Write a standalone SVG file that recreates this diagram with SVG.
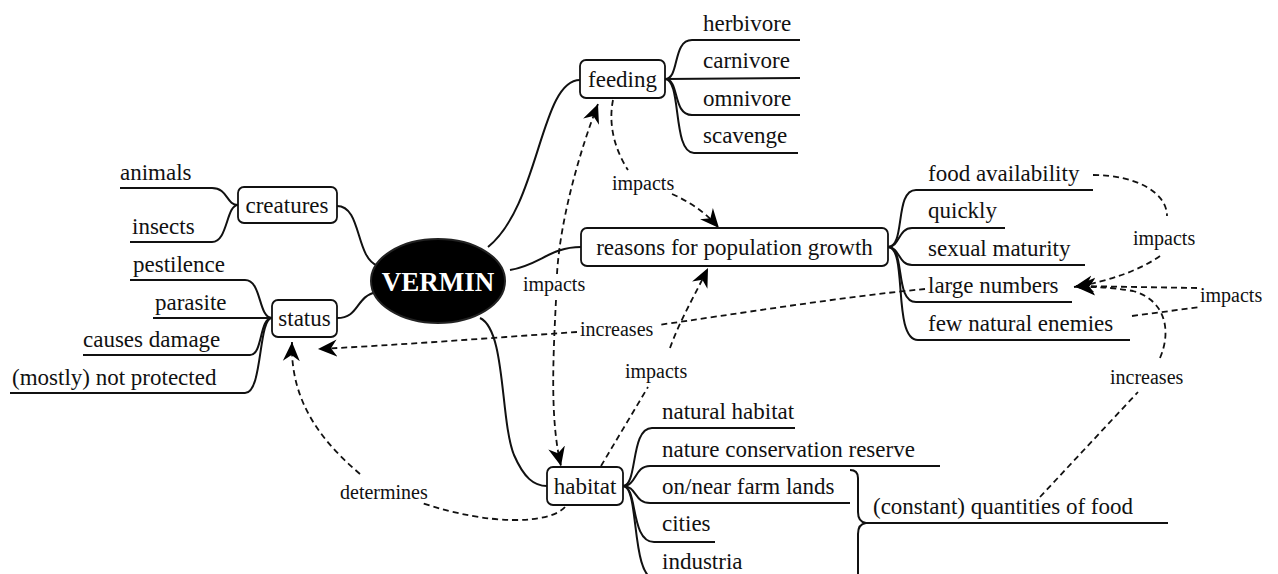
<svg xmlns="http://www.w3.org/2000/svg" width="1278" height="574" viewBox="0 0 1278 574">
<defs>
<style>
.bg{fill:#ffffff}
.box{fill:#ffffff;stroke:#111111;stroke-width:1.8}
.t{font-family:"Liberation Serif","Times New Roman",serif;font-size:23px;fill:#111111}
.lbl{font-family:"Liberation Serif","Times New Roman",serif;font-size:20px;fill:#111111}
.vt{font-family:"Liberation Serif","Times New Roman",serif;font-size:27px;font-weight:bold;fill:#ffffff}
.br{fill:none;stroke:#111111;stroke-width:2}
.ul{fill:none;stroke:#111111;stroke-width:2}
.d{fill:none;stroke:#111111;stroke-width:1.8;stroke-dasharray:6 4}
.da{fill:none;stroke:#111111;stroke-width:1.8;stroke-dasharray:6 4;marker-end:url(#ah)}
</style>
<marker id="ah" markerUnits="userSpaceOnUse" markerWidth="22" markerHeight="20" refX="19" refY="10" orient="auto" viewBox="0 0 22 20">
<path d="M0,1.5 L19,10 L0,18.5 L6,10 Z" fill="#000"/>
</marker>
</defs>
<rect class="bg" x="0" y="0" width="1278" height="574"/>

<g id="connectors">
<!-- solid tree branches -->
<path class="br" d="M337 206 C362 206,355 258,378 266"/>
<path class="br" d="M337 318 C360 318,355 296,377 292"/>
<path class="br" d="M488 247 C540 205,540 80,580 80"/>
<path class="br" d="M510 270 C540 265,550 247,581 247"/>
<path class="br" d="M480 318 C506 330,500 420,514 455 C524 478,534 486,547 486"/>
<!-- creatures children -->
<path class="ul" d="M120 188 L212 188 C228 188,226 205,238 205"/>
<path class="ul" d="M130 242 L212 242 C228 242,226 205,238 205"/>
<!-- status children -->
<path class="ul" d="M130 280 L245 280 C262 280,258 318,272 318"/>
<path class="ul" d="M153 318 L272 318"/>
<path class="ul" d="M83 355 L250 355 C263 355,259 318,272 318"/>
<path class="ul" d="M10 393 L245 393 C263 393,258 318,272 318"/>
<!-- feeding children -->
<path class="ul" d="M665 79 C680 79,672 40,692 40 L800 40"/>
<path class="ul" d="M665 79 L800 78"/>
<path class="ul" d="M665 79 C680 79,672 115,692 115 L800 115"/>
<path class="ul" d="M665 79 C682 79,672 153,694 153 L798 153"/>
<!-- reasons children -->
<path class="ul" d="M888 247 C906 247,894 190,916 190 L1093 190"/>
<path class="ul" d="M888 247 C900 247,898 228,912 228 L1005 228"/>
<path class="ul" d="M888 247 C900 247,898 265,912 265 L1085 265"/>
<path class="ul" d="M888 247 C906 247,894 302,916 302 L1072 302"/>
<path class="ul" d="M888 247 C908 247,892 340,918 340 L1130 340"/>
<!-- habitat children -->
<path class="ul" d="M623 486 C638 486,630 428,652 428 L795 428"/>
<path class="ul" d="M623 486 C637 486,634 466,650 466 L940 466"/>
<path class="ul" d="M623 486 C637 486,634 503,650 503 L850 503"/>
<path class="ul" d="M623 486 C638 486,630 542,654 542 L715 542"/>
<path class="ul" d="M623 486 C640 486,630 578,656 580 L760 580"/>
<!-- brace and quantities of food -->
<path class="ul" d="M850 470 Q858 470,858 478 L858 512 Q858 522,866 523 Q858 524,858 534 L858 576"/>
<path class="ul" d="M866 523 L1168 523"/>

<!-- dashed relations -->
<path class="d" d="M613 100 C608 125,615 150,628 170"/>
<path class="da" d="M672 194 C690 202,705 212,719 228"/>
<path class="da" d="M557 274 C560 220,580 150,598 104"/>
<path class="da" d="M556 300 C553 360,550 420,561 466"/>
<path class="d" d="M601 466 L648 387"/>
<path class="da" d="M670 348 C680 320,695 295,708 268"/>
<path class="d" d="M925 289 C840 297,730 315,658 325"/>
<path class="da" d="M577 332 C490 338,400 345,318 349"/>
<path class="d" d="M565 507 C550 524,490 526,422 503"/>
<path class="da" d="M360 474 C320 440,290 400,292 342"/>
<path class="d" d="M1093 175 C1135 175,1167 192,1167 216"/>
<path class="da" d="M1160 256 C1140 270,1110 281,1074 287"/>
<path class="d" d="M1132 316 L1200 307"/>
<path class="da" d="M1197 288 L1076 286"/>
<path class="d" d="M1040 497 L1138 392"/>
<path class="da" d="M1160 358 C1172 330,1165 300,1133 291 C1110 287,1095 287,1076 287"/>
</g>

<g id="vermin">
<ellipse cx="438" cy="281" rx="67" ry="42" fill="#000" stroke="#222" stroke-width="2"/>
<text class="vt" x="438" y="291" text-anchor="middle">VERMIN</text>
</g>

<g id="creatures">
<rect class="box" x="238" y="187" width="99" height="36" rx="6"/>
<text class="t" x="287" y="213" text-anchor="middle">creatures</text>
</g>
<g id="animals"><text class="t" x="120" y="180">animals</text></g>
<g id="insects"><text class="t" x="132" y="234">insects</text></g>

<g id="status">
<rect class="box" x="272" y="300" width="65" height="37" rx="6"/>
<text class="t" x="304.5" y="326" text-anchor="middle">status</text>
</g>
<g id="pestilence"><text class="t" x="133" y="272">pestilence</text></g>
<g id="parasite"><text class="t" x="155" y="310">parasite</text></g>
<g id="causes-damage"><text class="t" x="83" y="347">causes damage</text></g>
<g id="not-protected"><text class="t" x="12" y="385">(mostly) not protected</text></g>

<g id="feeding">
<rect class="box" x="580" y="60" width="85" height="38" rx="6"/>
<text class="t" x="622.5" y="87" text-anchor="middle">feeding</text>
</g>
<g id="herbivore"><text class="t" x="703" y="31">herbivore</text></g>
<g id="carnivore"><text class="t" x="703" y="68">carnivore</text></g>
<g id="omnivore"><text class="t" x="703" y="106">omnivore</text></g>
<g id="scavenge"><text class="t" x="703" y="143">scavenge</text></g>

<g id="reasons">
<rect class="box" x="581" y="228" width="307" height="38" rx="6"/>
<text class="t" x="734.5" y="255" text-anchor="middle">reasons for population growth</text>
</g>
<g id="food-availability"><text class="t" x="928" y="181">food availability</text></g>
<g id="quickly"><text class="t" x="928" y="218">quickly</text></g>
<g id="sexual-maturity"><text class="t" x="928" y="256">sexual maturity</text></g>
<g id="large-numbers"><text class="t" x="928" y="293">large numbers</text></g>
<g id="few-enemies"><text class="t" x="928" y="331">few natural enemies</text></g>

<g id="habitat">
<rect class="box" x="547" y="467" width="76" height="38" rx="6"/>
<text class="t" x="585" y="494" text-anchor="middle">habitat</text>
</g>
<g id="natural-habitat"><text class="t" x="662" y="419">natural habitat</text></g>
<g id="nature-reserve"><text class="t" x="662" y="457">nature conservation reserve</text></g>
<g id="farm-lands"><text class="t" x="662" y="494">on/near farm lands</text></g>
<g id="cities"><text class="t" x="662" y="531">cities</text></g>
<g id="industria"><text class="t" x="662" y="569">industria</text></g>
<g id="quantities-food"><text class="t" x="873" y="514">(constant) quantities of food</text></g>

<g id="labels">
<text class="lbl" x="612" y="190">impacts</text>
<text class="lbl" x="523" y="291">impacts</text>
<text class="lbl" x="580" y="336">increases</text>
<text class="lbl" x="625" y="378">impacts</text>
<text class="lbl" x="340" y="499">determines</text>
<text class="lbl" x="1133" y="245">impacts</text>
<text class="lbl" x="1200" y="302">impacts</text>
<text class="lbl" x="1110" y="384">increases</text>
</g>
</svg>
